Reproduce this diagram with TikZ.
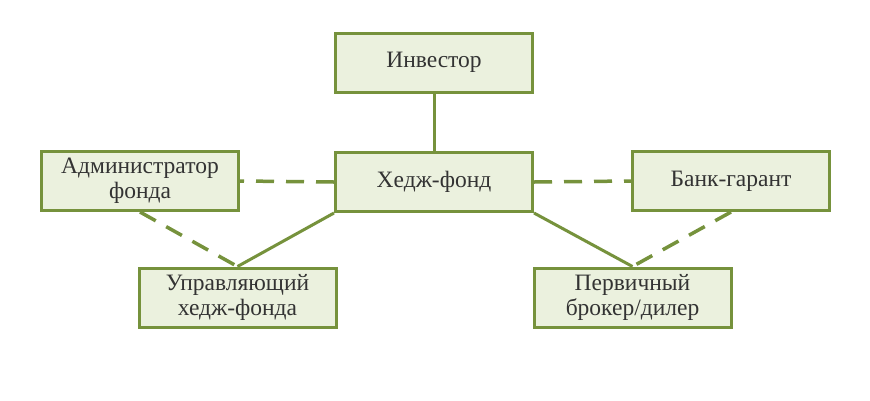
\documentclass[tikz,border=0pt]{standalone}
\usepackage{fontspec}
\setmainfont{Liberation Serif}
\begin{document}
\begin{tikzpicture}[x=1pt,y=-1pt,
  box/.style={draw=boxedge,fill=boxfill,line width=3pt,minimum width=197pt,minimum height=59pt,
    align=center,font=\fontsize{23.5}{25}\selectfont,text=textcol,inner sep=0pt},
  solidlink/.style={draw=boxedge,line width=3pt},
  dashlink/.style={draw=boxedge,line width=3.5pt,dash pattern=on 18pt off 12pt}]
\definecolor{boxedge}{HTML}{76923C}
\definecolor{boxfill}{HTML}{EBF1DE}
\definecolor{textcol}{HTML}{333333}
\useasboundingbox[fill=white] (0,0) rectangle (870,400);
\node[box] (inv) at (434,62.5) {Инвестор};
\node[box] (hedge) at (434,182) {Хедж-фонд};
\node[box] (admin) at (140,181) {Администратор\\фонда};
\node[box] (bank) at (731,181) {Банк-гарант};
\node[box] (mgr) at (237.5,297.5) {Управляющий\\хедж-фонда};
\node[box] (prime) at (632.5,297.5) {Первичный\\брокер/дилер};
\draw[solidlink] (inv) -- (hedge);
\draw[dashlink] (hedge.west) -- (admin.east);
\draw[dashlink] (hedge.east) -- (bank.west);
\draw[solidlink] (hedge.south west) -- (mgr.north);
\draw[dashlink] (admin.south) -- (mgr.north);
\draw[solidlink] (hedge.south east) -- (prime.north);
\draw[dashlink] (bank.south) -- (prime.north);
\end{tikzpicture}
\end{document}
